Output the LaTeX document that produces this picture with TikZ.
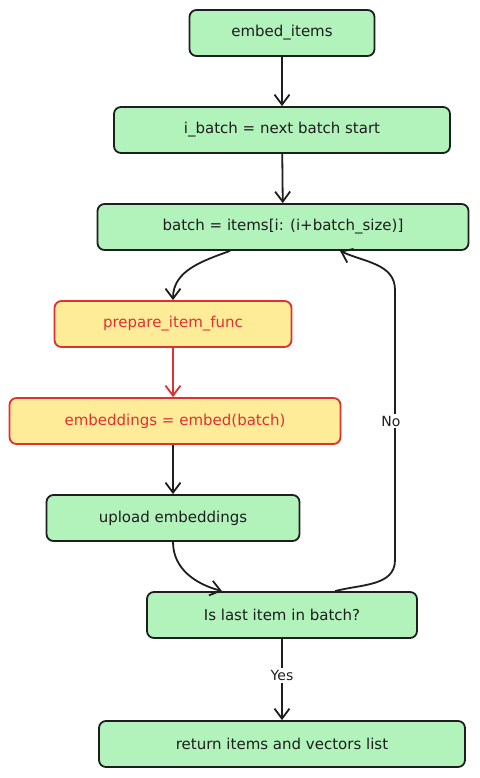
\documentclass[tikz,border=0pt]{standalone}
\usepackage{fontspec}
\setmainfont{DejaVu Sans}
\usepackage{tikz}
\usetikzlibrary{arrows.meta}

\definecolor{boxgreen}{HTML}{B2F2BB}
\definecolor{boxyellow}{HTML}{FFEC99}
\definecolor{boxred}{HTML}{E03131}
\definecolor{inkgray}{HTML}{1E1E1E}

\tikzset{
    stepbox/.style={draw=inkgray, fill=boxgreen, line width=1.8pt, rounded corners=7pt,
        minimum height=46pt, font=\fontsize{15}{17}\selectfont, text=inkgray},
    hookbox/.style={stepbox, draw=boxred, fill=boxyellow, text=boxred},
    flow/.style={draw=inkgray, line width=1.8pt, -{Straight Barb[length=10pt,width=15pt]}},
    redflow/.style={flow, draw=boxred},
    lbl/.style={fill=white, inner sep=2pt, font=\fontsize{14}{16}\selectfont, text=inkgray}
}

\begin{document}
\begin{tikzpicture}[x=1pt,y=-1pt]
            \useasboundingbox (0,0) rectangle (479,778);

            \node[stepbox, minimum width=185pt] (embed) at (282,33) {embed\_items};
            \node[stepbox, minimum width=336pt] (ibatch) at (282,130) {i\_batch = next batch start};
            \node[stepbox, minimum width=371pt] (batch) at (283,227) {batch = items[i: (i+batch\_size)]};
            \node[hookbox, minimum width=237pt] (prep) at (173,324) {prepare\_item\_func};
            \node[hookbox, minimum width=331pt] (embeds) at (175,421) {embeddings = embed(batch)};
            \node[stepbox, minimum width=253pt] (upload) at (173,518) {upload embeddings};
            \node[stepbox, minimum width=270pt] (check) at (282,615) {Is last item in batch?};
            \node[stepbox, minimum width=366pt] (ret) at (282,744) {return items and vectors list};

            \draw[flow] (embed) -- (ibatch);
            \draw[flow] (ibatch) -- (batch);
            \draw[flow] ([xshift=-53pt]batch.south) to[out=200, in=90] (prep.north);
            \draw[redflow] (prep) -- (prep |- embeds.north);
            \draw[flow] (embeds.south -| upload.north) -- (upload);
            \draw[flow] (upload.south) to[out=-90, in=165] ([xshift=-60pt]check.north);
            \draw[flow] ([xshift=53pt]check.north) to[out=15, in=-90] (395,560) -- (395,290)
                to[out=90, in=-25] ([xshift=57pt]batch.south);
            \node[lbl] (no) at (391,421) {No};
            \draw[flow] (check) -- (ret) node[lbl, pos=0.45] (yes) {Yes};
        \end{tikzpicture}
\end{document}
